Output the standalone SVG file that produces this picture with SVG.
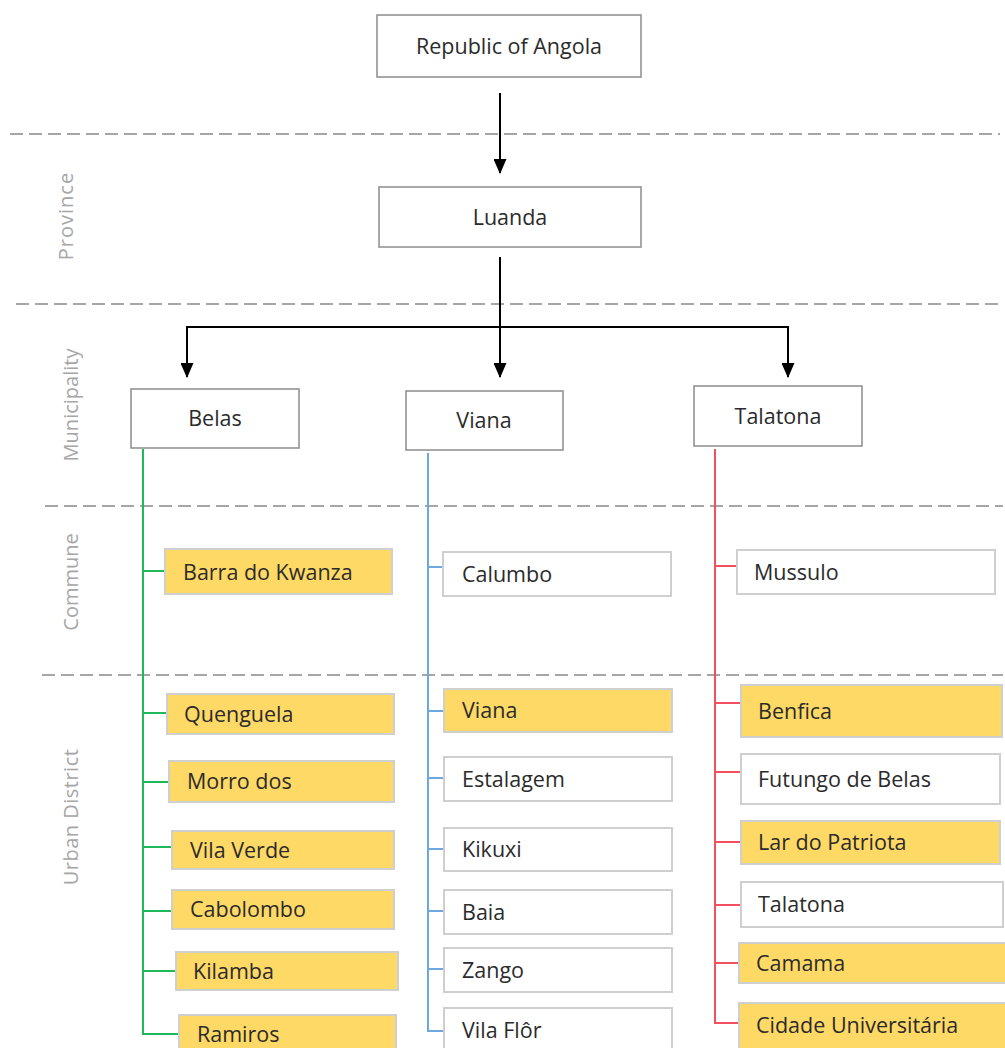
<svg xmlns="http://www.w3.org/2000/svg" width="1005" height="1048" viewBox="0 0 1005 1048">
<style>
  .top { fill: #ffffff; stroke: #8c8c8c; stroke-width: 1.5; }
  .w { fill: #ffffff; stroke: #cfcfcf; stroke-width: 2; }
  .y { fill: #ffd966; stroke: #cfcfcf; stroke-width: 2; }
  .t { font-family: "Open Sans", "Noto Sans", sans-serif; font-size: 21.5px; fill: #2b2b2b; }
  .c { text-anchor: middle; }
  .lvl { font-family: "Open Sans", "Noto Sans", sans-serif; font-size: 20px; fill: #a6a6a6; text-anchor: middle; }
  .dash { stroke: #a6a6a6; stroke-width: 2; stroke-dasharray: 13 6; fill: none; }
  .arr { stroke: #000000; stroke-width: 2; fill: none; }
  .g { stroke: #1fb85a; stroke-width: 2; fill: none; }
  .b { stroke: #6fa8dc; stroke-width: 2; fill: none; }
  .r { stroke: #f25060; stroke-width: 2; fill: none; }
</style>
<defs>
  <marker id="ah" markerWidth="15" markerHeight="13" refX="14" refY="6.5" orient="auto-start-reverse" markerUnits="userSpaceOnUse" viewBox="0 0 15 13">
    <path d="M0,0 L15,6.5 L0,13 Z" fill="#000000"/>
  </marker>
</defs>
<rect width="1005" height="1048" fill="#ffffff"/>

<g id="levels">
  <line class="dash" x1="10" y1="134" x2="1000" y2="134"/>
  <line class="dash" x1="16" y1="304" x2="1003" y2="304"/>
  <line class="dash" x1="45" y1="506" x2="1003" y2="506"/>
  <line class="dash" x1="42" y1="675" x2="1003" y2="675"/>
  <text class="lvl" transform="translate(73,216) rotate(-90)" letter-spacing="1">Province</text>
  <text class="lvl" transform="translate(78,405) rotate(-90)">Municipality</text>
  <text class="lvl" transform="translate(78,582) rotate(-90)">Commune</text>
  <text class="lvl" transform="translate(78,817) rotate(-90)" letter-spacing="0.5">Urban District</text>
</g>

<g id="connectors">
  <line class="arr" x1="500" y1="93" x2="500" y2="173" marker-end="url(#ah)"/>
  <line class="arr" x1="500" y1="257" x2="500" y2="377" marker-end="url(#ah)"/>
  <polyline class="arr" points="187,377 187,327 788,327 788,377" marker-start="url(#ah)" marker-end="url(#ah)"/>
  <!-- Belas (green) -->
  <line class="g" x1="143" y1="449" x2="143" y2="1034"/>
  <line class="g" x1="142" y1="571" x2="165" y2="571"/>
  <line class="g" x1="142" y1="713" x2="167" y2="713"/>
  <line class="g" x1="142" y1="782" x2="169" y2="782"/>
  <line class="g" x1="142" y1="847" x2="172" y2="847"/>
  <line class="g" x1="142" y1="911" x2="172" y2="911"/>
  <line class="g" x1="142" y1="971" x2="176" y2="971"/>
  <line class="g" x1="142" y1="1034" x2="179" y2="1034"/>
  <!-- Viana (blue) -->
  <line class="b" x1="428" y1="453" x2="428" y2="1032"/>
  <line class="b" x1="427" y1="567" x2="443" y2="567"/>
  <line class="b" x1="427" y1="711" x2="444" y2="711"/>
  <line class="b" x1="427" y1="778" x2="444" y2="778"/>
  <line class="b" x1="427" y1="849" x2="444" y2="849"/>
  <line class="b" x1="427" y1="911" x2="444" y2="911"/>
  <line class="b" x1="427" y1="969" x2="444" y2="969"/>
  <line class="b" x1="427" y1="1031" x2="444" y2="1031"/>
  <!-- Talatona (red) -->
  <line class="r" x1="715" y1="449" x2="715" y2="1023"/>
  <line class="r" x1="714" y1="566" x2="737" y2="566"/>
  <line class="r" x1="714" y1="703" x2="741" y2="703"/>
  <line class="r" x1="714" y1="772" x2="741" y2="772"/>
  <line class="r" x1="714" y1="842" x2="741" y2="842"/>
  <line class="r" x1="714" y1="905" x2="741" y2="905"/>
  <line class="r" x1="714" y1="963" x2="739" y2="963"/>
  <line class="r" x1="714" y1="1023" x2="739" y2="1023"/>
</g>

<g id="n-angola"><rect class="top" x="377" y="15" width="264" height="62"/><text class="t c" x="509" y="54">Republic of Angola</text></g>
<g id="n-luanda"><rect class="top" x="379" y="187" width="262" height="60"/><text class="t c" x="510" y="225">Luanda</text></g>
<g id="n-belas"><rect class="top" x="131" y="389" width="168" height="59"/><text class="t c" x="215" y="426">Belas</text></g>
<g id="n-viana"><rect class="top" x="406" y="391" width="157" height="59"/><text class="t c" x="484" y="428">Viana</text></g>
<g id="n-talatona"><rect class="top" x="694" y="386" width="168" height="60"/><text class="t c" x="778" y="424">Talatona</text></g>

<g id="n-barra"><rect class="y" x="165" y="549" width="227" height="45"/><text class="t" x="183" y="580">Barra do Kwanza</text></g>
<g id="n-quenguela"><rect class="y" x="167" y="694" width="227" height="40"/><text class="t" x="184" y="722">Quenguela</text></g>
<g id="n-morro"><rect class="y" x="169" y="761" width="225" height="41"/><text class="t" x="187" y="789">Morro dos</text></g>
<g id="n-vilaverde"><rect class="y" x="172" y="831" width="222" height="38"/><text class="t" x="190" y="858">Vila Verde</text></g>
<g id="n-cabolombo"><rect class="y" x="172" y="890" width="222" height="39"/><text class="t" x="190" y="917">Cabolombo</text></g>
<g id="n-kilamba"><rect class="y" x="176" y="952" width="222" height="38"/><text class="t" x="193" y="979">Kilamba</text></g>
<g id="n-ramiros"><rect class="y" x="179" y="1015" width="217" height="40"/><text class="t" x="197" y="1042">Ramiros</text></g>

<g id="n-calumbo"><rect class="w" x="443" y="552" width="228" height="44"/><text class="t" x="462" y="582">Calumbo</text></g>
<g id="n-viana2"><rect class="y" x="444" y="689" width="228" height="43"/><text class="t" x="462" y="718">Viana</text></g>
<g id="n-estalagem"><rect class="w" x="444" y="757" width="228" height="44"/><text class="t" x="462" y="787">Estalagem</text></g>
<g id="n-kikuxi"><rect class="w" x="444" y="828" width="228" height="43"/><text class="t" x="462" y="857">Kikuxi</text></g>
<g id="n-baia"><rect class="w" x="444" y="890" width="228" height="44"/><text class="t" x="462" y="920">Baia</text></g>
<g id="n-zango"><rect class="w" x="444" y="948" width="228" height="44"/><text class="t" x="462" y="978">Zango</text></g>
<g id="n-vilaflor"><rect class="w" x="444" y="1008" width="228" height="50"/><text class="t" x="462" y="1038">Vila Flôr</text></g>

<g id="n-mussulo"><rect class="w" x="737" y="550" width="258" height="44"/><text class="t" x="754" y="580">Mussulo</text></g>
<g id="n-benfica"><rect class="y" x="741" y="685" width="261" height="52"/><text class="t" x="758" y="719">Benfica</text></g>
<g id="n-futungo"><rect class="w" x="741" y="754" width="259" height="50"/><text class="t" x="758" y="787">Futungo de Belas</text></g>
<g id="n-lar"><rect class="y" x="741" y="821" width="259" height="43"/><text class="t" x="758" y="850">Lar do Patriota</text></g>
<g id="n-talatona2"><rect class="w" x="741" y="882" width="262" height="45"/><text class="t" x="758" y="912">Talatona</text></g>
<g id="n-camama"><rect class="y" x="739" y="943" width="270" height="40"/><text class="t" x="756" y="971">Camama</text></g>
<g id="n-cidade"><rect class="y" x="739" y="1003" width="270" height="50"/><text class="t" x="756" y="1033">Cidade Universitária</text></g>
</svg>
